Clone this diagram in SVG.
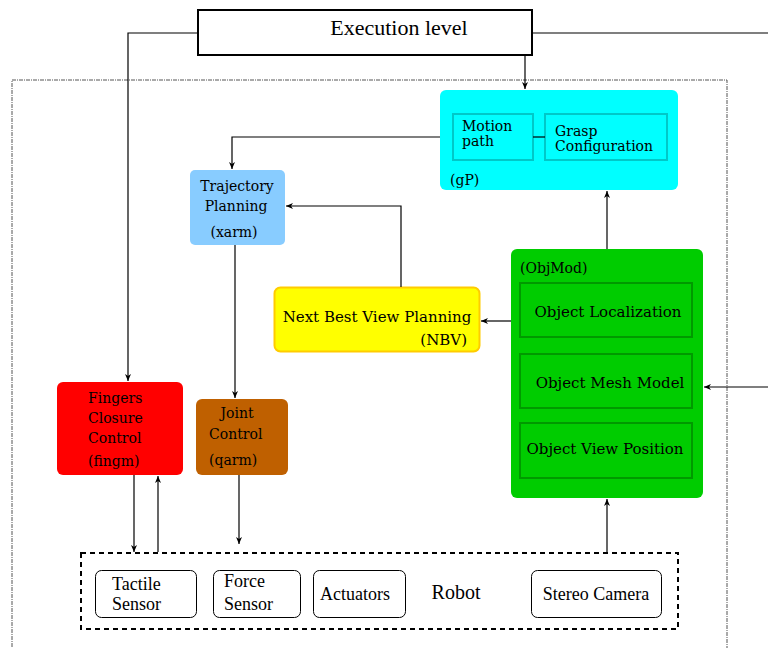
<svg xmlns="http://www.w3.org/2000/svg" width="768" height="648" viewBox="0 0 768 648">
<defs>
<marker id="ah" markerWidth="8" markerHeight="6" refX="7" refY="3" orient="auto" markerUnits="userSpaceOnUse">
<path d="M0,0 L7,3 L0,6 L2,3 Z" fill="#000"/>
</marker>
<style>
text{font-family:"Liberation Serif","Times New Roman",serif;fill:#000}
.t{font-family:"DejaVu Serif","Liberation Serif",serif;font-size:14px}
.g{font-family:"DejaVu Serif","Liberation Serif",serif;font-size:15px}
.r{font-size:18px}
.c{stroke:#000;stroke-width:1.2;fill:none}
.ca{stroke:#000;stroke-width:1.2;fill:none;marker-end:url(#ah)}
.sub{fill:none;stroke-width:2}
.rb{fill:#fff;stroke:#000;stroke-width:1}
</style>
</defs>
<rect width="768" height="648" fill="#fff"/>
<rect x="12" y="80" width="715" height="580" fill="none" stroke="#555" stroke-width="1" stroke-dasharray="4,1,1,1"/>

<g id="exec">
<rect x="198" y="10" width="334" height="45" fill="#fff" stroke="#000" stroke-width="2"/>
<text x="399" y="35" font-size="22" text-anchor="middle">Execution level</text>
</g>

<g id="gP">
<rect x="440" y="90" width="238" height="100" rx="6" fill="#00ffff"/>
<rect x="453" y="114" width="80" height="46" class="sub" stroke="#00c8c8"/>
<rect x="545" y="114" width="122" height="46" class="sub" stroke="#00c8c8"/>
<text x="462" y="131" class="t">Motion</text>
<text x="462" y="146" class="t">path</text>
<text x="555" y="136" class="t">Grasp</text>
<text x="555" y="151" class="t">Configuration</text>
<text x="450" y="185" class="t">(gP)</text>
</g>

<g id="xarm">
<rect x="190" y="170" width="95" height="75" rx="5" fill="#88ccff"/>
<text x="237" y="191" class="t" text-anchor="middle">Trajectory</text>
<text x="236" y="211" class="t" text-anchor="middle">Planning</text>
<text x="234" y="237" class="t" text-anchor="middle">(xarm)</text>
</g>

<g id="nbv">
<rect x="274.5" y="287.5" width="205" height="64" rx="6" fill="#ffff00" stroke="#ffcc00" stroke-width="2"/>
<text x="377" y="322" class="g" text-anchor="middle">Next Best View Planning</text>
<text x="467" y="345" class="g" text-anchor="end">(NBV)</text>
</g>

<g id="objmod">
<rect x="511" y="249" width="192" height="249" rx="6" fill="#00cc00"/>
<text x="520" y="273" class="t">(ObjMod)</text>
<rect x="520" y="283" width="172" height="54" class="sub" stroke="#009900"/>
<rect x="520" y="354" width="172" height="54" class="sub" stroke="#009900"/>
<rect x="520" y="423" width="172" height="55" class="sub" stroke="#009900"/>
<text x="608" y="317" class="g" text-anchor="middle">Object Localization</text>
<text x="610" y="388" class="g" text-anchor="middle">Object Mesh Model</text>
<text x="605" y="454" class="g" text-anchor="middle">Object View Position</text>
</g>

<g id="fingm">
<rect x="57" y="382" width="126" height="93" rx="6" fill="#ff0000"/>
<text x="88" y="403" class="t">Fingers</text>
<text x="88" y="423" class="t">Closure</text>
<text x="88" y="443" class="t">Control</text>
<text x="88" y="466" class="t">(fingm)</text>
</g>

<g id="qarm">
<rect x="196" y="399" width="92" height="76" rx="6" fill="#bf6000"/>
<text x="237" y="418" class="t" text-anchor="middle">Joint</text>
<text x="209" y="439" class="t">Control</text>
<text x="209" y="465" class="t">(qarm)</text>
</g>

<g id="robot">
<rect x="81" y="553" width="597" height="76" fill="none" stroke="#000" stroke-width="2" stroke-dasharray="5,4"/>
<rect x="95.5" y="570.5" width="101" height="47" rx="6" class="rb"/>
<rect x="213.5" y="570.5" width="87" height="47" rx="6" class="rb"/>
<rect x="313.5" y="570.5" width="92" height="47" rx="6" class="rb"/>
<rect x="531.5" y="570.5" width="130" height="47" rx="6" class="rb"/>
<text x="112" y="590" class="r">Tactile</text>
<text x="112" y="610" class="r">Sensor</text>
<text x="224" y="587" class="r">Force</text>
<text x="224" y="610" class="r">Sensor</text>
<text x="355" y="600" class="r" text-anchor="middle">Actuators</text>
<text x="456" y="599" font-size="20" text-anchor="middle">Robot</text>
<text x="596" y="600" class="r" text-anchor="middle">Stereo Camera</text>
</g>

<g id="connectors">
<path d="M198,33 H128 V381" class="ca"/>
<path d="M532,33 H768" class="c"/>
<path d="M525,55 V89" class="ca"/>
<path d="M440,137 H232 V169" class="ca"/>
<path d="M533,137 H545" class="c"/>
<path d="M401,287 V206 H286" class="ca"/>
<path d="M607,249 V191" class="ca"/>
<path d="M511,321 H481" class="ca"/>
<path d="M768,387 H704" class="ca"/>
<path d="M607,552 V499" class="ca"/>
<path d="M235,245 V398" class="ca"/>
<path d="M134,475 V552" class="ca" stroke-width="1.5"/>
<path d="M158,552 V476" class="ca"/>
<path d="M239,475 V544" class="ca"/>
</g>
</svg>
